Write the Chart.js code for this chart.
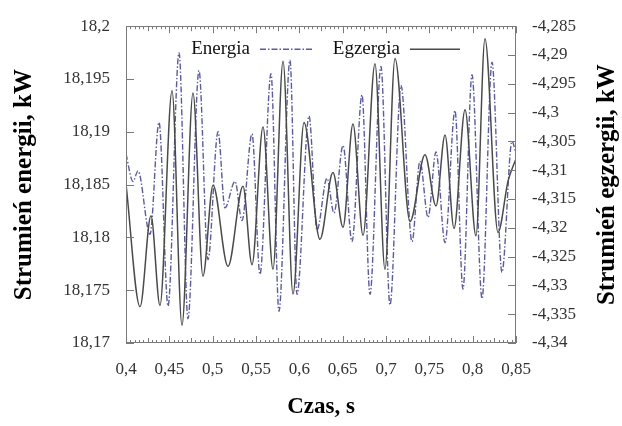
<!DOCTYPE html>
<html><head><meta charset="utf-8">
<script src="https://cdn.jsdelivr.net/npm/chart.js@4/dist/chart.umd.min.js"></script>
<style>html,body{margin:0;padding:0;background:#fff;}#wrap{width:622px;height:426px;}</style>
</head><body><div id="wrap"><canvas id="c" width="622" height="426"></canvas></div>
<script>
// ---- data ----
const energiaTime = [0.4,0.4081,0.4138,0.4277,0.4381,0.4485,0.4612,0.4715,0.4842,0.4946,0.5062,0.5142,0.5258,0.5338,0.5454,0.5546,0.5673,0.5765,0.5892,0.5973,0.6112,0.6204,0.6319,0.64,0.6504,0.6608,0.6723,0.6815,0.6942,0.7046,0.7173,0.73,0.7392,0.7485,0.7577,0.7681,0.7796,0.7888,0.7992,0.8108,0.8223,0.8338,0.8454,0.85];
const energiaValues = [18.1879,18.1853,18.1863,18.1803,18.1909,18.1735,18.1975,18.1723,18.1958,18.1779,18.19,18.1828,18.1853,18.1816,18.1898,18.1765,18.1955,18.173,18.1968,18.1746,18.1915,18.1807,18.1856,18.1823,18.1887,18.1796,18.1935,18.1746,18.1962,18.1736,18.1944,18.1796,18.1872,18.1819,18.1881,18.1795,18.192,18.1751,18.1954,18.1742,18.1966,18.1767,18.1891,18.1879];
const egzergiaTime = [0.4,0.4162,0.4288,0.4392,0.4531,0.4646,0.4773,0.4888,0.5004,0.5177,0.535,0.5454,0.5581,0.5696,0.5812,0.5927,0.6054,0.6238,0.6388,0.6504,0.6619,0.6735,0.6873,0.6988,0.7104,0.7277,0.745,0.7577,0.7681,0.7785,0.7912,0.8038,0.8142,0.8292,0.8408,0.85];
const egzergiaValues = [-4.3124,-4.3337,-4.3179,-4.3335,-4.2962,-4.3369,-4.2966,-4.3284,-4.3126,-4.3267,-4.3128,-4.3264,-4.3025,-4.3272,-4.2911,-4.3315,-4.3017,-4.322,-4.3104,-4.3199,-4.302,-4.3213,-4.2915,-4.3272,-4.2906,-4.3189,-4.3073,-4.3162,-4.3039,-4.3201,-4.2995,-4.3214,-4.2872,-4.3208,-4.3119,-4.308];
const seriesNames = ['Energia','Egzergia'];
const xTicks = [0.4,0.45,0.5,0.55,0.6,0.65,0.7,0.75,0.8,0.85];
const xTickLabels = ['0,4','0,45','0,5','0,55','0,6','0,65','0,7','0,75','0,8','0,85'];
const leftTicks = [18.17,18.175,18.18,18.185,18.19,18.195,18.2];
const leftTickLabels = ['18,17','18,175','18,18','18,185','18,19','18,195','18,2'];
const rightTicks = [-4.34,-4.335,-4.33,-4.325,-4.32,-4.315,-4.31,-4.305,-4.3,-4.295,-4.29,-4.285];
const rightTickLabels = ['-4,34','-4,335','-4,33','-4,325','-4,32','-4,315','-4,31','-4,305','-4,3','-4,295','-4,29','-4,285'];
const xTitle = 'Czas, s';
const leftTitle = 'Strumień energii, kW';
const rightTitle = 'Strumień egzergii, kW';

const SERIF = "'Liberation Serif','Times New Roman',serif";
const tickFont = {family: SERIF, size: 17};
const tickColor = '#333';
const energiaColor = '#5a5aa8';
const egzergiaColor = '#4a4a4a';
const energiaDash = [6,2,1.5,2];

const pairs = (xs, ys) => xs.map((x,i)=>({x:x, y:ys[i]}));
const setTicks = (vals) => (scale) => { scale.ticks = vals.map(v=>({value:v})); };

const decor = {
  id: 'decor',
  afterDraw(chart) {
    const ctx = chart.ctx, a = chart.chartArea;
    const xs = chart.scales.x, yl = chart.scales.y, yr = chart.scales.y2;
    ctx.save();
    ctx.strokeStyle = '#7a7a7a'; ctx.lineWidth = 1;
    ctx.strokeRect(Math.round(a.left)+0.5, Math.round(a.top)+0.5, Math.round(a.right-a.left)-1, Math.round(a.bottom-a.top)-1);
    ctx.beginPath();
    for (let i=0;i<xTicks.length;i++){
      const p = Math.round(xs.getPixelForValue(xTicks[i]))+0.5;
      ctx.moveTo(p,a.bottom); ctx.lineTo(p,a.bottom-7);
      ctx.moveTo(p,a.top); ctx.lineTo(p,a.top+7);
      if (i<xTicks.length-1){
        for (let k=1;k<10;k++){
          const v = xTicks[i] + k*(xTicks[i+1]-xTicks[i])/10;
          const q = Math.round(xs.getPixelForValue(v))+0.5;
          const L = k===5?5:3;
          ctx.moveTo(q,a.bottom); ctx.lineTo(q,a.bottom-L);
          ctx.moveTo(q,a.top); ctx.lineTo(q,a.top+L);
        }
      }
    }
    leftTicks.forEach(v=>{const p=Math.round(yl.getPixelForValue(v))+0.5; ctx.moveTo(a.left,p); ctx.lineTo(a.left+8,p);});
    rightTicks.forEach(v=>{const p=Math.round(yr.getPixelForValue(v))+0.5; ctx.moveTo(a.right,p); ctx.lineTo(a.right-8,p);});
    ctx.stroke();

    // legend (text then sample, gnuplot style)
    const ly = a.top + 23;
    ctx.font = "19px " + SERIF;
    ctx.fillStyle = '#111';
    ctx.textAlign = 'right'; ctx.textBaseline = 'middle';
    ctx.fillText(seriesNames[0], a.left+124, ly);
    ctx.fillText(seriesNames[1], a.left+274, ly);
    ctx.lineWidth = 1.4;
    ctx.strokeStyle = energiaColor; ctx.setLineDash(energiaDash);
    ctx.beginPath(); ctx.moveTo(a.left+134, ly); ctx.lineTo(a.left+187, ly); ctx.stroke();
    ctx.setLineDash([]);
    ctx.strokeStyle = egzergiaColor; ctx.lineWidth = 1.5;
    ctx.beginPath(); ctx.moveTo(a.left+284, ly); ctx.lineTo(a.left+334, ly); ctx.stroke();

    // right axis title, reading bottom-to-top
    ctx.save();
    ctx.translate(608, (a.top+a.bottom)/2);
    ctx.rotate(-Math.PI/2);
    ctx.font = "bold 25px " + SERIF;
    ctx.fillStyle = '#000'; ctx.textAlign='center'; ctx.textBaseline='middle';
    ctx.fillText(rightTitle, 0, 0);
    ctx.restore();
    ctx.restore();
  }
};

new Chart(document.getElementById('c'), {
  type: 'line',
  data: {
    datasets: [
      {label: seriesNames[0], data: pairs(energiaTime, energiaValues), yAxisID: 'y', order: 1,
       borderColor: energiaColor, borderWidth: 1.4, borderDash: energiaDash, pointRadius: 0,
       cubicInterpolationMode: 'monotone', fill: false},
      {label: seriesNames[1], data: pairs(egzergiaTime, egzergiaValues), yAxisID: 'y2', order: 0,
       borderColor: egzergiaColor, borderWidth: 1.5, pointRadius: 0,
       cubicInterpolationMode: 'monotone', fill: false}
    ]
  },
  options: {
    responsive: false, animation: false, devicePixelRatio: 1,
    layout: {padding: {top: 20, left: 0, right: 0, bottom: 0}},
    plugins: {legend: {display: false}, tooltip: {enabled: false}},
    scales: {
      x: {type: 'linear', min: 0.4, max: 0.85,
          afterBuildTicks: setTicks(xTicks),
          afterFit: s => { s.height = 83; },
          grid: {display: false, drawTicks: false}, border: {display: false},
          ticks: {font: tickFont, color: tickColor, padding: 16, maxRotation: 0, autoSkip: false,
                  callback: (v,i) => xTickLabels[i]},
          title: {display: true, text: xTitle, color: '#000', font: {family: SERIF, size: 23, weight: 'bold'}, padding: {top: 6, bottom: 5}}},
      y: {type: 'linear', position: 'left', min: 18.17, max: 18.2,
          afterBuildTicks: setTicks(leftTicks),
          afterFit: s => { s.width = 126; },
          grid: {display: false, drawTicks: false}, border: {display: false},
          ticks: {font: tickFont, color: tickColor, padding: 16, autoSkip: false,
                  callback: (v,i) => leftTickLabels[i]},
          title: {display: true, text: leftTitle, color: '#000', font: {family: SERIF, size: 25, weight: 'bold'}, padding: {top: 10, bottom: 0}}},
      y2: {type: 'linear', position: 'right', min: -4.34, max: -4.285,
          afterBuildTicks: setTicks(rightTicks),
          afterFit: s => { s.width = 106; },
          grid: {display: false, drawTicks: false}, border: {display: false},
          ticks: {font: tickFont, color: tickColor, padding: 16, autoSkip: false,
                  callback: (v,i) => rightTickLabels[i]},
          title: {display: false}}
    }
  },
  plugins: [decor]
});
</script></body></html>
